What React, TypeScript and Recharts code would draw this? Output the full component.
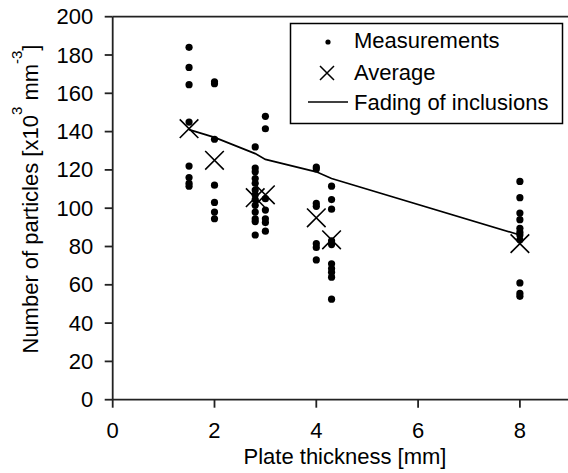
import React from "react";
import { ComposedChart, XAxis, YAxis, Scatter, Line, ReferenceLine } from "recharts";

// plate thickness [mm] for each measurement group
const THICKNESS = [1.5, 2.0, 2.8, 3.0, 4.0, 4.3, 8.0];

// particle counts [x10^3 mm^-3], one list per thickness
const MEASURED = [
  [184, 173.5, 164.5, 145, 122, 116, 113, 111.5],
  [166, 165, 136, 112, 103, 98, 94.5],
  [132, 121, 119, 115.5, 113, 109.5, 107, 104.5, 101.5, 98, 94.5, 93, 86],
  [148, 141.5, 105, 99, 94.5, 92.5, 88],
  [121.5, 120.5, 102.5, 101, 81.5, 79.5, 73],
  [111.5, 104.5, 99.5, 83, 81, 71, 68.5, 66.5, 64, 52.5],
  [114, 105.5, 97.5, 94, 89.5, 87.5, 86, 83.5, 61, 55.5, 54],
];

const AVERAGE = [141.5, 125, 105.5, 107, 95, 83.5, 81.5];
const FADING = [141, 137, 128.5, 125.5, 119, 115.5, 86];

const X_TICKS = [0, 2, 4, 6, 8];
const Y_TICKS = [0, 20, 40, 60, 80, 100, 120, 140, 160, 180, 200];

const FONT = "'Liberation Sans', Arial, sans-serif";
const AXIS = "#222";

const measuredData = THICKNESS.flatMap((t, i) => MEASURED[i].map((v) => ({ x: t, y: v })));
const averageData = THICKNESS.map((t, i) => ({ x: t, y: AVERAGE[i] }));
const fadingData = THICKNESS.map((t, i) => ({ x: t, y: FADING[i] }));

const Dot = (p: any) => <circle cx={p.cx} cy={p.cy} r={3.6} fill="#000" />;

const Cross = (p: any) => {
  const s = 9.3;
  return (
    <path
      d={`M${p.cx - s},${p.cy - s}L${p.cx + s},${p.cy + s}M${p.cx - s},${p.cy + s}L${p.cx + s},${p.cy - s}`}
      stroke="#000"
      strokeWidth={1.6}
      fill="none"
    />
  );
};

const XTick = ({ x, y, payload }: any) => (
  <text x={x} y={y + 28} textAnchor="middle" fontSize={22} fontFamily={FONT} fill="#000">
    {payload.value}
  </text>
);

const YTick = ({ x, y, payload }: any) => (
  <text x={x - 9.4} y={y + 7.5} textAnchor="end" fontSize={22} fontFamily={FONT} fill="#000">
    {payload.value}
  </text>
);

const XTitle = () => (
  <text x={345} y={464} textAnchor="middle" fontSize={22} fontFamily={FONT} fill="#000">
    Plate thickness [mm]
  </text>
);

const YTitle = () => (
  <text
    transform="translate(38.3,199) rotate(-90)"
    textAnchor="middle"
    fontSize={22}
    fontFamily={FONT}
    fill="#000"
  >
    Number of particles [x10
    <tspan dy={-16} fontSize={15}>3</tspan>
    <tspan dy={16}> mm</tspan>
    <tspan dy={-16} fontSize={15}>-3</tspan>
    <tspan dy={16}>]</tspan>
  </text>
);

const LegendBox = () => (
  <svg width={568} height={473} style={{ position: "absolute", left: 0, top: 0, pointerEvents: "none" }}>
    <rect x={290.5} y={23.5} width={272} height={100} fill="#fff" stroke="#000" strokeWidth={1.5} />
    <circle cx={328} cy={42} r={2.6} fill="#000" />
    <path d="M320,66L334,80M320,80L334,66" stroke="#000" strokeWidth={1.5} />
    <line x1={308} y1={102} x2={348} y2={102} stroke="#000" strokeWidth={1.4} />
    <g fontSize={22} fontFamily={FONT} fill="#000">
      <text x={354} y={48.3}>Measurements</text>
      <text x={354} y={80}>Average</text>
      <text x={354} y={110}>Fading of inclusions</text>
    </g>
  </svg>
);

export default function App() {
  return (
    <div style={{ position: "absolute", left: 0, top: 0, width: 568, height: 473, background: "#fff" }}>
      <ComposedChart width={568} height={473} margin={{ top: 16.7, right: 0, bottom: 0, left: 0 }}>
        <XAxis
          type="number"
          dataKey="x"
          domain={[0, 8.945]}
          allowDataOverflow
          ticks={X_TICKS}
          tickSize={8}
          height={73.3}
          axisLine={{ stroke: AXIS, strokeWidth: 1.8 }}
          tickLine={{ stroke: AXIS, strokeWidth: 1.8 }}
          tick={<XTick />}
          label={{ content: () => <XTitle /> }}
        />
        <YAxis
          type="number"
          domain={[0, 200]}
          allowDataOverflow
          ticks={Y_TICKS}
          tickSize={8}
          width={112.7}
          axisLine={{ stroke: AXIS, strokeWidth: 1.8 }}
          tickLine={{ stroke: AXIS, strokeWidth: 1.8 }}
          tick={<YTick />}
          label={{ content: () => <YTitle /> }}
        />
        <ReferenceLine y={200} stroke={AXIS} strokeWidth={1.8} />
        <Line
          data={fadingData}
          dataKey="y"
          type="linear"
          stroke="#000"
          strokeWidth={1.7}
          dot={false}
          isAnimationActive={false}
        />
        <Scatter data={measuredData} dataKey="y" shape={<Dot />} isAnimationActive={false} />
        <Scatter data={averageData} dataKey="y" shape={<Cross />} isAnimationActive={false} />
      </ComposedChart>
      <LegendBox />
    </div>
  );
}
